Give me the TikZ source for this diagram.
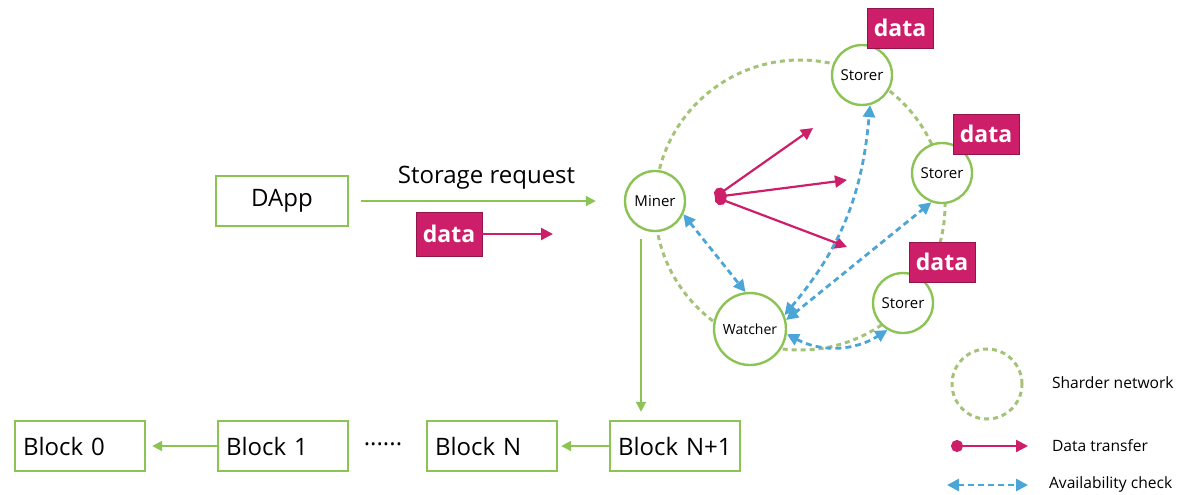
\documentclass[tikz,border=0pt]{standalone}
\usepackage{fontspec}
\setmainfont{Open Sans}
\usetikzlibrary{arrows.meta,positioning}
\definecolor{leaf}{RGB}{140,195,85}
\definecolor{netgreen}{RGB}{165,195,120}
\definecolor{berry}{RGB}{205,30,105}
\definecolor{sky}{RGB}{75,165,215}
\begin{document}
\begin{tikzpicture}[x=0.5pt,y=-0.5pt,
  box/.style={rectangle, draw=leaf, line width=1.2pt, minimum height=25pt, font=\fontsize{12}{14}\selectfont},
  block/.style={box, text width=57pt, inner xsep=4pt, align=left},
  peer/.style={circle, draw=leaf, line width=1.2pt, fill=white, inner sep=0pt, minimum size=30pt, font=\fontsize{7.5}{9}\selectfont},
  datum/.style={rectangle, fill=berry, draw=berry!70!black, line width=0.4pt, text=white, minimum width=33pt, minimum height=20pt, font=\bfseries\fontsize{11.5}{13}\selectfont},
  flow/.style={color=leaf, line width=1pt, -{Triangle[length=5pt,width=5pt]}},
  push/.style={color=berry, line width=1.1pt, -{Triangle[length=6pt,width=6pt]}},
  send/.style={push, {Circle[length=6pt]}-{Triangle[length=6pt,width=6pt]}},
  check/.style={color=sky, line width=1.4pt, dash pattern=on 3pt off 2pt, {Triangle[length=6pt,width=6pt]}-{Triangle[length=6pt,width=6pt]}},
  ring/.style={circle, draw=netgreen, line width=1.5pt, dash pattern=on 2.5pt off 2pt, inner sep=0pt},
  note/.style={font=\fontsize{7.8}{9}\selectfont, anchor=west}]
\useasboundingbox (0,0) rectangle (1187,494);

\node[ring, minimum size=145pt] (sharder) at (800,205) {};
\node[box, minimum width=66pt] (dapp) at (282,201) {DApp};
\node[peer] (miner) at (655,201) {Miner};
\node[peer] (storer1) at (862,75) {Storer};
\node[peer] (storer2) at (942,173) {Storer};
\node[peer] (storer3) at (903,303) {Storer};
\node[peer, minimum size=36pt, font=\fontsize{7}{9}\selectfont] (watcher) at (750,329) {Watcher};
\node[datum] (data1) at (900,28) {data};
\node[datum] (data2) at (986,134) {data};
\node[datum] (data3) at (942,262) {data};
\node[datum, minimum height=22pt] (data0) at (449,234) {data};
\coordinate (data0end) at (553,234);

\draw[flow, shorten <=6pt, shorten >=14pt] (dapp) -- node[above=2pt, text=black, font=\fontsize{12}{14}\selectfont] (request) {Storage request} (miner);
\draw[push] (data0) -- (data0end);

\coordinate (hub) at (715,197);
\coordinate (t1) at (813,128);
\coordinate (t2) at (847,180);
\coordinate (t3) at (847,247);
\draw[send] (hub) -- (t1);
\draw[send] (hub) -- (t2);
\draw[send] (hub) -- (t3);

\draw[check] (miner.-25) -- (watcher.97);
\draw[check] (watcher.22) to[out=50,in=-95] (storer1.-75);
\draw[check] (watcher.14) -- (storer2.-110);
\draw[check] (watcher.-8) to[bend right=30] (storer3.-120);

\node[block] (block0) at (80,446) {Block 0};
\node[block] (block1) at (283,446) {Block 1};
\node[block] (blockN) at (492,446) {Block N};
\node[block] (blockN1) at (675,446) {Block N+1};
\node[font=\fontsize{12}{14}\selectfont] (dots) at (383,444) {......};
\draw[flow, shorten >=3pt] (block1) -- (block0);
\draw[flow, shorten >=1.5pt] (blockN1) -- (blockN);
\draw[flow, shorten >=4pt] ([xshift=-7pt,yshift=-3.5pt]miner.south) -- ([xshift=-7pt]miner.south |- blockN1.north);

\node[ring, minimum size=35pt] (legnet) at (987,384) {};
\node[note] (legnettext) at (1045,383) {Sharder network};
\coordinate (lt1) at (951,446);
\coordinate (lt2) at (1028,446);
\draw[send] (lt1) -- (lt2);
\node[note] (legsendtext) at (1045,446) {Data transfer};
\coordinate (lc1) at (947,485);
\coordinate (lc2) at (1028,485);
\draw[check] (lc1) -- (lc2);
\node[note] (legchecktext) at (1042,484) {Availability check};
\end{tikzpicture}
\end{document}
